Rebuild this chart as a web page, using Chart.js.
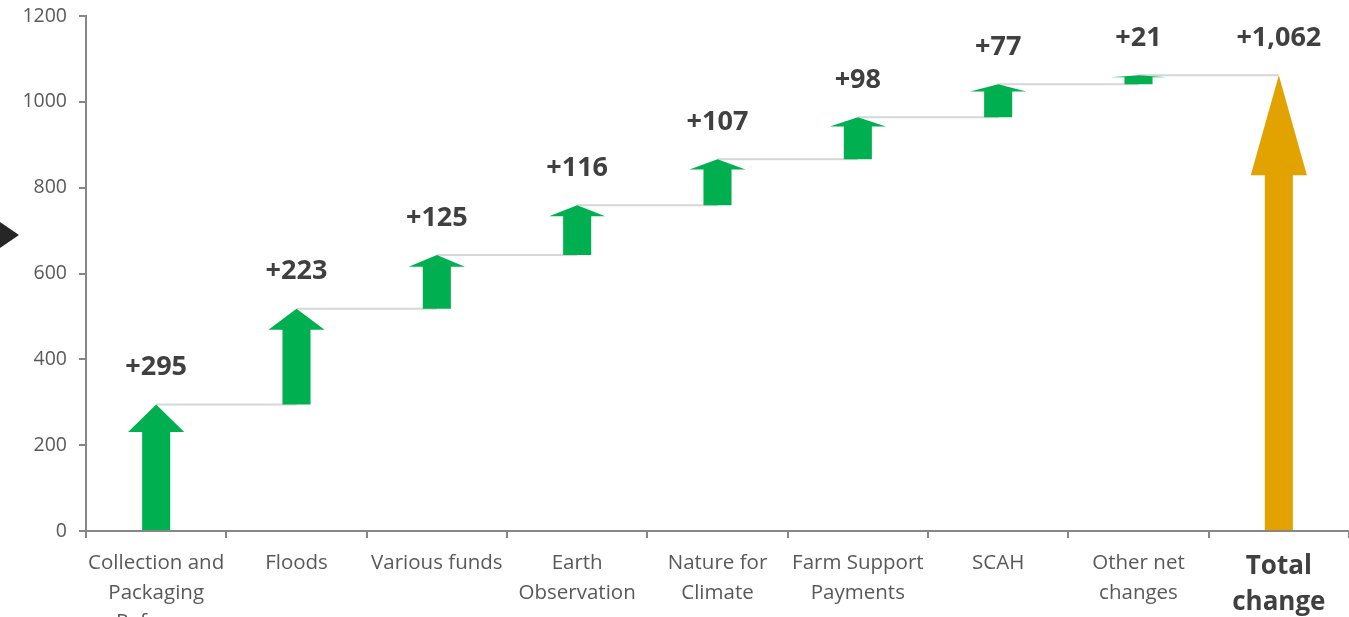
<!DOCTYPE html>
<html>
<head>
<meta charset="utf-8">
<script src="https://cdn.jsdelivr.net/npm/chart.js@4.4.0/dist/chart.umd.min.js"></script>
<style>
    html, body { margin: 0; padding: 0; background: #fff; overflow: hidden; }
    #wrap { position: relative; width: 1349px; height: 617px; }
    #marker {
        position: absolute; left: 0; top: 222px; width: 0; height: 0;
        border-top: 13px solid transparent; border-bottom: 13px solid transparent;
        border-left: 19px solid #262626;
    }
</style>
</head>
<body>
<div id="wrap">
    <canvas id="waterfallChart" width="1349" height="617"></canvas>
    <div id="marker"></div>
</div>
<script>
// --- DATA ---
const categories = [
    ['Collection and', 'Packaging', 'Reforms'],
    'Floods',
    'Various funds',
    ['Earth', 'Observation'],
    ['Nature for', 'Climate'],
    ['Farm Support', 'Payments'],
    'SCAH',
    ['Other net', 'changes'],
    ['Total', 'change']
];
const changes = [295, 223, 125, 116, 107, 98, 77, 21];
const totalChange = 1062;
const yTicks = [0, 200, 400, 600, 800, 1000, 1200];

const GREEN = '#00b050';
const GOLD = '#e2a300';
const LABEL_COLOR = '#404040';
const TICK_COLOR = '#595959';

// floating ranges [start, end] for each step, then the total from zero
let running = 0;
const ranges = changes.map(v => {
    const r = [running, running + v];
    running += v;
    return r;
});
ranges.push([0, totalChange]);
const labelValues = changes.concat([totalChange]);

// --- ARROW + CONNECTOR PLUGIN ---
const arrowPlugin = {
    id: 'arrows',
    afterDatasetsDraw(chart) {
        const ctx = chart.ctx;
        const bars = chart.getDatasetMeta(0).data;

        // connectors between arrow tips
        ctx.save();
        ctx.strokeStyle = '#d6d6d6';
        ctx.lineWidth = 2;
        for (let i = 0; i < bars.length - 1; i++) {
            ctx.beginPath();
            ctx.moveTo(bars[i].x, bars[i].y);
            ctx.lineTo(bars[i + 1].x, bars[i].y);
            ctx.stroke();
        }
        ctx.restore();

        // arrows
        bars.forEach((bar, i) => {
            const top = bar.y;
            const base = bar.base;
            const headH = (base - top) * 0.22;
            const headW = bar.width / 2;
            const shaftW = bar.width / 4;
            ctx.save();
            ctx.fillStyle = i === bars.length - 1 ? GOLD : GREEN;
            ctx.beginPath();
            ctx.moveTo(bar.x, top);
            ctx.lineTo(bar.x + headW, top + headH);
            ctx.lineTo(bar.x + shaftW, top + headH);
            ctx.lineTo(bar.x + shaftW, base);
            ctx.lineTo(bar.x - shaftW, base);
            ctx.lineTo(bar.x - shaftW, top + headH);
            ctx.lineTo(bar.x - headW, top + headH);
            ctx.closePath();
            ctx.fill();
            ctx.restore();

            // value label
            ctx.save();
            ctx.fillStyle = LABEL_COLOR;
            ctx.font = 'bold 27px "Open Sans"';
            ctx.textAlign = 'center';
            ctx.textBaseline = 'middle';
            ctx.fillText('+' + labelValues[i].toLocaleString('en-US'), bar.x, top - 37);
            ctx.restore();
        });
    }
};

new Chart(document.getElementById('waterfallChart'), {
    type: 'bar',
    data: {
        labels: categories,
        datasets: [{
            data: ranges,
            backgroundColor: 'rgba(0,0,0,0)',
            borderWidth: 0,
            barPercentage: 0.8,
            categoryPercentage: 0.5
        }]
    },
    options: {
        responsive: false,
        animation: false,
        layout: { padding: { top: 16, left: 0, right: 0, bottom: 0 } },
        plugins: { legend: { display: false }, tooltip: { enabled: false } },
        scales: {
            x: {
                grid: { display: true, drawOnChartArea: false, drawTicks: true, tickLength: 7, color: '#868686', lineWidth: 2 },
                border: { color: '#868686', width: 2 },
                ticks: {
                    autoSkip: false,
                    maxRotation: 0,
                    minRotation: 0,
                    padding: 11,
                    color: ctx => ctx.index === 8 ? LABEL_COLOR : TICK_COLOR,
                    font: ctx => ctx.index === 8
                        ? { family: 'Open Sans', size: 26, weight: 'bold', lineHeight: 1.38 }
                        : { family: 'Open Sans', size: 20.5, lineHeight: 1.42 }
                },
                afterFit: s => { s.height = 617 - 531; s.paddingLeft = 0; s.paddingRight = 0; }
            },
            y: {
                min: 0,
                max: 1200,
                afterBuildTicks: s => { s.ticks = yTicks.map(v => ({ value: v })); },
                grid: { display: true, drawOnChartArea: false, drawTicks: true, tickLength: 7, color: '#868686', lineWidth: 2 },
                border: { color: '#868686', width: 2 },
                ticks: {
                    padding: 12,
                    color: TICK_COLOR,
                    font: { family: 'Open Sans', size: 19.5 },
                    callback: v => String(v)
                },
                afterFit: s => { s.width = 86; s.paddingTop = 0; s.paddingBottom = 0; }
            }
        }
    },
    plugins: [arrowPlugin]
});
</script>
</body>
</html>
